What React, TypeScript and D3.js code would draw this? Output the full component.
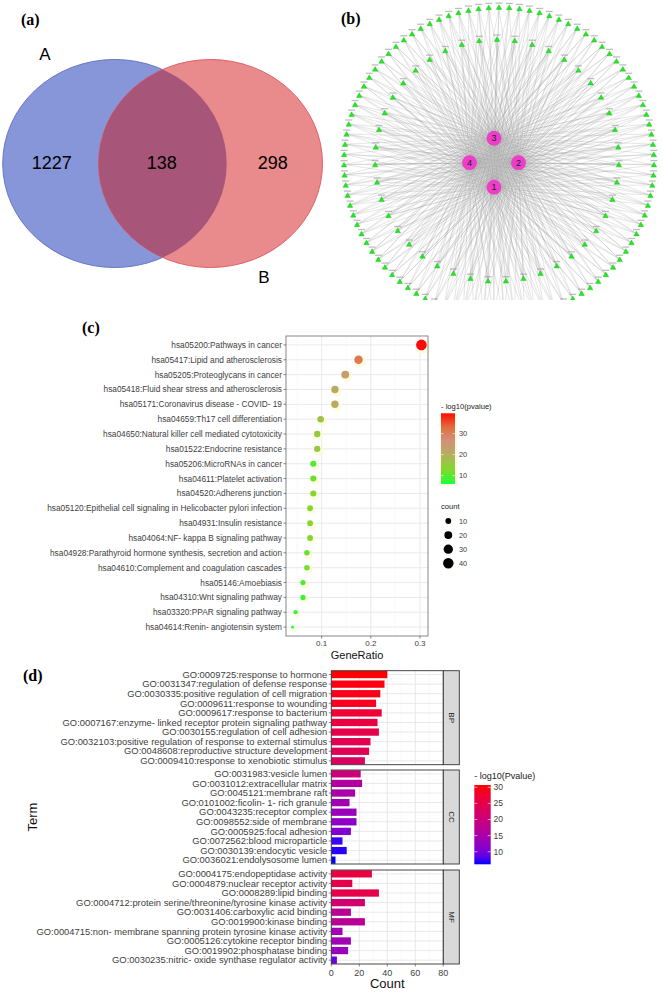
import React from 'react';
import * as d3 from 'd3';

// ---------- (a) Venn ----------
const vennSets = ['A', 'B'];
const vennCounts = [1227, 138, 298]; // A only, A∩B, B only

// ---------- (b) network ----------
const hubIds = ['3', '2', '1', '4']; // top, right, bottom, left
const outerNodeCount = 95;
const innerNodeCount = 43;

// ---------- (c) KEGG ----------
const keggTerms = [
  'hsa05200:Pathways in cancer',
  'hsa05417:Lipid and atherosclerosis',
  'hsa05205:Proteoglycans in cancer',
  'hsa05418:Fluid shear stress and atherosclerosis',
  'hsa05171:Coronavirus disease -  COVID- 19',
  'hsa04659:Th17 cell differentiation',
  'hsa04650:Natural killer cell mediated cytotoxicity',
  'hsa01522:Endocrine resistance',
  'hsa05206:MicroRNAs in cancer',
  'hsa04611:Platelet activation',
  'hsa04520:Adherens junction',
  'hsa05120:Epithelial cell signaling in Helicobacter pylori infection',
  'hsa04931:Insulin resistance',
  'hsa04064:NF- kappa B signaling pathway',
  'hsa04928:Parathyroid hormone synthesis, secretion and action',
  'hsa04610:Complement and coagulation cascades',
  'hsa05146:Amoebiasis',
  'hsa04310:Wnt signaling pathway',
  'hsa03320:PPAR signaling pathway',
  'hsa04614:Renin- angiotensin system',
];
const keggCount = [42, 24, 20, 17, 17, 13, 12, 12, 11, 11, 11, 10, 10, 10, 9, 9, 8, 8, 6, 5];
const keggRatio = [0.303, 0.175, 0.148, 0.127, 0.127, 0.098, 0.091, 0.091, 0.083, 0.083, 0.083, 0.0765, 0.0765, 0.0765, 0.07, 0.07, 0.062, 0.062, 0.047, 0.041];
const keggLogP = [39.7, 31, 24, 21, 21, 17, 16, 16, 9, 11, 14, 13, 13, 13, 11, 12, 9, 8, 7, 6];
const ratioTicks = [0.1, 0.2, 0.3];
const keggLogPTicks = [10, 20, 30];
const countLegendValues = [10, 20, 30, 40];
const keggColorStops = [6, 13, 20, 27, 33, 39.7];
const keggColorValues = ['#1cff3c', '#84d82c', '#b2b060', '#d68e7c', '#e0703c', '#ff0a0a'];

// ---------- (d) GO ----------
const goCategories = ['BP', 'CC', 'MF'];
const bpTerms = [
  'GO:0009725:response to hormone',
  'GO:0031347:regulation of defense response',
  'GO:0030335:positive regulation of cell migration',
  'GO:0009611:response to wounding',
  'GO:0009617:response to bacterium',
  'GO:0007167:enzyme- linked receptor protein signaling pathway',
  'GO:0030155:regulation of cell adhesion',
  'GO:0032103:positive regulation of response to external stimulus',
  'GO:0048608:reproductive structure development',
  'GO:0009410:response to xenobiotic stimulus',
];
const bpCount = [40, 38, 35, 32, 36, 33, 34, 28, 27, 24];
const bpLogP = [30.7, 30, 29.5, 29, 27, 26, 25, 24.5, 24, 23];
const ccTerms = [
  'GO:0031983:vesicle lumen',
  'GO:0031012:extracellular matrix',
  'GO:0045121:membrane raft',
  'GO:0101002:ficolin- 1- rich granule',
  'GO:0043235:receptor complex',
  'GO:0098552:side of membrane',
  'GO:0005925:focal adhesion',
  'GO:0072562:blood microparticle',
  'GO:0030139:endocytic vesicle',
  'GO:0036021:endolysosome lumen',
];
const ccCount = [21, 22, 17, 13, 18, 18, 14, 8, 11, 3];
const ccLogP = [20, 16, 15, 14, 13, 12, 11, 7, 6.5, 6.1];
const mfTerms = [
  'GO:0004175:endopeptidase activity',
  'GO:0004879:nuclear receptor activity',
  'GO:0008289:lipid binding',
  'GO:0004712:protein serine/threonine/tyrosine kinase activity',
  'GO:0031406:carboxylic acid binding',
  'GO:0019900:kinase binding',
  'GO:0004715:non- membrane spanning protein tyrosine kinase activity',
  'GO:0005126:cytokine receptor binding',
  'GO:0019902:phosphatase binding',
  'GO:0030235:nitric- oxide synthase regulator activity',
];
const mfCount = [29, 15, 34, 24, 14, 24, 8, 14, 12, 4];
const mfLogP = [26, 25, 25, 21, 17, 17, 14, 14, 13, 9];
const countTicks = [0, 20, 40, 60, 80];
const goLogPTicks = [10, 15, 20, 25, 30];

const SANS = '"Liberation Sans", Arial, sans-serif';
const SERIF = '"Liberation Serif", "DejaVu Serif", serif';

function Venn() {
  const cyV = 163.5, rx = 112, ry = 104;
  const cxA = 114.7, cxB = 210.5;
  return (
    <g>
      <text x={21} y={25} fontFamily={SERIF} fontWeight="bold" fontSize={16}>(a)</text>
      <defs>
        <clipPath id="clipA">
          <ellipse cx={cxA} cy={cyV} rx={rx} ry={ry} />
        </clipPath>
      </defs>
      <ellipse cx={cxA} cy={cyV} rx={rx} ry={ry} fill="#8796d8" stroke="#6676c4" strokeWidth={1} />
      <ellipse cx={cxB} cy={cyV} rx={rx} ry={ry} fill="#e98a8c" stroke="#e0606a" strokeWidth={1} />
      <ellipse cx={cxB} cy={cyV} rx={rx} ry={ry} fill="#a7567a" clipPath="url(#clipA)" />
      <text x={45} y={60} textAnchor="middle" fontFamily={SANS} fontSize={17}>{vennSets[0]}</text>
      <text x={264} y={283} textAnchor="middle" fontFamily={SANS} fontSize={17}>{vennSets[1]}</text>
      <text x={51.7} y={169} textAnchor="middle" fontFamily={SANS} fontSize={18}>{vennCounts[0]}</text>
      <text x={161.7} y={169} textAnchor="middle" fontFamily={SANS} fontSize={18}>{vennCounts[1]}</text>
      <text x={272.7} y={169} textAnchor="middle" fontFamily={SANS} fontSize={18}>{vennCounts[2]}</text>
    </g>
  );
}

function Network() {
  const hubCx = 494, hubCy = 162.7, hubOff = 24.5;
  const hubPos = [
    [hubCx, hubCy - hubOff],
    [hubCx + hubOff, hubCy],
    [hubCx, hubCy + hubOff],
    [hubCx - hubOff, hubCy],
  ];
  const outer = d3.range(outerNodeCount).map((i) => {
    const a = (i / outerNodeCount) * 2 * Math.PI;
    return [499 + 155 * Math.sin(a), 162 - 155 * Math.cos(a)];
  });
  const inner = d3.range(innerNodeCount).map((i) => {
    const a = (i / innerNodeCount) * 2 * Math.PI;
    return [497 + 122 * Math.sin(a), 160 - 121 * Math.cos(a)];
  });
  const nodes = outer.concat(inner);
  const tri = d3.symbol(d3.symbolTriangle, 13)();
  return (
    <g>
      <defs>
        <clipPath id="clipNet">
          <rect x={330} y={0} width={334} height={300} />
        </clipPath>
      </defs>
      <g clipPath="url(#clipNet)">
        {nodes.map((n, i) =>
          hubPos.map((h, j) => (
            <line key={`e${i}-${j}`} x1={n[0]} y1={n[1]} x2={h[0]} y2={h[1]} stroke="#9a9a9a" strokeOpacity={0.5} strokeWidth={0.5} />
          ))
        )}
        {nodes.map((n, i) => (
          <g key={`n${i}`} transform={`translate(${n[0]},${n[1]})`}>
            <rect x={-3.5} y={-4.6} width={7} height={1.3} fill="#8a8a8a" opacity={0.55} />
            <path d={tri} fill="#22e822" stroke="#14b814" strokeWidth={0.4} transform="translate(0,0.8)" />
          </g>
        ))}
        {hubPos.map((h, j) => (
          <g key={`h${j}`}>
            <circle cx={h[0]} cy={h[1]} r={7.4} fill="#ee3ec9" />
            <text x={h[0]} y={h[1] + 3.2} textAnchor="middle" fontFamily={SANS} fontSize={9} fill="#222">{hubIds[j]}</text>
          </g>
        ))}
      </g>
      <text x={341} y={24} fontFamily={SERIF} fontWeight="bold" fontSize={16}>(b)</text>
    </g>
  );
}

function Kegg() {
  const L = 286, R = 428, T = 336, B = 636;
  const x = d3.scaleLinear().domain([(L - 272.5) / 491.5, (R - 272.5) / 491.5]).range([L, R]);
  const y = d3.scalePoint<string>().domain(keggTerms).range([T, B]).padding(0.6);
  const color = d3.scaleLinear<string>().domain(keggColorStops).range(keggColorValues).interpolate(d3.interpolateRgb).clamp(true);
  const cMin = d3.min(keggCount)!, cMax = d3.max(keggCount)!;
  const sizeT = d3.scaleSqrt().domain([0, cMax - cMin]).range([0, 1]);
  const radius = (c: number) => (3 + 7.7 * sizeT(Math.max(0, c - cMin))) / 2;
  const minorTicks = [0.05, 0.15, 0.25];
  // legend
  const lgX = 441, lgT = 413.3, lgB = 484, lgW = 14;
  const lgScale = d3.scaleLinear().domain([6, 39.7]).range([lgB, lgT]);
  const stops = d3.range(0, 1.0001, 0.05);
  return (
    <g fontFamily={SANS}>
      <text x={82} y={333} fontFamily={SERIF} fontWeight="bold" fontSize={16}>(c)</text>
      <rect x={L} y={T} width={R - L} height={B - T} fill="#fff" />
      {minorTicks.map((t) => (
        <line key={`mn${t}`} x1={x(t)} x2={x(t)} y1={T} y2={B} stroke="#f2f2f2" strokeWidth={0.5} />
      ))}
      {ratioTicks.map((t) => (
        <line key={`mj${t}`} x1={x(t)} x2={x(t)} y1={T} y2={B} stroke="#e8e8e8" strokeWidth={0.9} />
      ))}
      {keggTerms.map((t) => (
        <line key={`h${t}`} x1={L} x2={R} y1={y(t)} y2={y(t)} stroke="#e8e8e8" strokeWidth={0.9} />
      ))}
      {keggTerms.map((t, i) => {
        const r = radius(keggCount[i]);
        return (
          <circle key={`s${t}`} cx={x(keggRatio[i]) + 1.5} cy={y(t)! + 1.8} r={r + 1.8} fill="#fdfbd8" opacity={0.8} />
        );
      })}
      {keggTerms.map((t, i) => (
        <circle key={`d${t}`} cx={x(keggRatio[i])} cy={y(t)} r={radius(keggCount[i])} fill={color(keggLogP[i])} />
      ))}
      <rect x={L} y={T} width={R - L} height={B - T} fill="none" stroke="#7a7a7a" strokeWidth={0.9} />
      {keggTerms.map((t) => (
        <g key={`l${t}`}>
          <line x1={L - 2.5} x2={L} y1={y(t)} y2={y(t)} stroke="#555" strokeWidth={0.7} />
          <text x={L - 4} y={y(t)! + 3} textAnchor="end" fontSize={8.3} fill="#404040">{t}</text>
        </g>
      ))}
      {ratioTicks.map((t) => (
        <g key={`xt${t}`}>
          <line x1={x(t)} x2={x(t)} y1={B} y2={B + 2.5} stroke="#555" strokeWidth={0.7} />
          <text x={x(t)} y={B + 10} textAnchor="middle" fontSize={8} fill="#404040">{t}</text>
        </g>
      ))}
      <text x={357} y={659} textAnchor="middle" fontSize={11} fill="#111">GeneRatio</text>
      {/* color legend */}
      <text x={lgX} y={409} fontSize={7.6} fill="#222">- log10(pvalue)</text>
      <defs>
        <linearGradient id="keggGrad" x1="0" y1="1" x2="0" y2="0">
          {stops.map((s) => (
            <stop key={`g${s}`} offset={s} stopColor={color(6 + s * 33.7)} />
          ))}
        </linearGradient>
      </defs>
      <rect x={lgX - 1} y={lgT - 1} width={lgW + 3} height={lgB - lgT + 3} fill="#fdfbd8" opacity={0.8} />
      <rect x={lgX} y={lgT} width={lgW} height={lgB - lgT} fill="url(#keggGrad)" />
      {keggLogPTicks.map((t) => (
        <g key={`lt${t}`}>
          <line x1={lgX} x2={lgX + 2.5} y1={lgScale(t)} y2={lgScale(t)} stroke="#fff" strokeWidth={0.6} />
          <line x1={lgX + lgW - 2.5} x2={lgX + lgW} y1={lgScale(t)} y2={lgScale(t)} stroke="#fff" strokeWidth={0.6} />
          <text x={459} y={lgScale(t) + 2.6} fontSize={7.4} fill="#404040">{t}</text>
        </g>
      ))}
      <text x={lgX} y={509} fontSize={7.6} fill="#222">count</text>
      {countLegendValues.map((c, i) => (
        <g key={`cl${c}`}>
          <circle cx={448.3} cy={521 + i * 14.1} r={radius(c)} fill="#000" />
          <text x={459} y={521 + i * 14.1 + 2.6} fontSize={7.4} fill="#404040">{c}</text>
        </g>
      ))}
    </g>
  );
}

function GoBars() {
  const L = 331.3, R = 443.3, SW = 16;
  const panelTops = [670.7, 770, 870];
  const PH = 94;
  const termsBy = [bpTerms, ccTerms, mfTerms];
  const countBy = [bpCount, ccCount, mfCount];
  const logPBy = [bpLogP, ccLogP, mfLogP];
  const x = d3.scaleLinear().domain([0, 80]).range([L, R]);
  const fill = d3.scaleLinear<string>().domain([6.1, 30.7]).range(['#0000ff', '#ff0000']).interpolate(d3.interpolateLab);
  const minor = [10, 30, 50, 70];
  const lgX = 474.3, lgT = 785, lgB = 864.3, lgW = 16.4;
  const lgScale = d3.scaleLinear().domain([6.1, 30.7]).range([lgB, lgT]);
  const stops = d3.range(0, 1.0001, 0.1);
  const lastBottom = panelTops[2] + PH;
  return (
    <g fontFamily={SANS}>
      <text x={23} y={681} fontFamily={SERIF} fontWeight="bold" fontSize={16}>(d)</text>
      {goCategories.map((cat, k) => {
        const top = panelTops[k];
        const y = d3.scaleBand<string>().domain(termsBy[k]).range([top, top + PH]).paddingInner(0.24).paddingOuter(0.02);
        return (
          <g key={cat}>
            <rect x={L} y={top} width={R - L} height={PH} fill="#fff" />
            {minor.map((t) => (
              <line key={`m${t}`} x1={x(t)} x2={x(t)} y1={top} y2={top + PH} stroke="#f2f2f2" strokeWidth={0.5} />
            ))}
            {countTicks.map((t) => (
              <line key={`M${t}`} x1={x(t)} x2={x(t)} y1={top} y2={top + PH} stroke="#e6e6e6" strokeWidth={0.9} />
            ))}
            {termsBy[k].map((t) => (
              <line key={`h${t}`} x1={L} x2={R} y1={y(t)! + y.bandwidth() / 2} y2={y(t)! + y.bandwidth() / 2} stroke="#e6e6e6" strokeWidth={0.9} />
            ))}
            {termsBy[k].map((t, i) => (
              <rect key={`b${t}`} x={x(0)} y={y(t)} width={x(countBy[k][i]) - x(0)} height={y.bandwidth()} fill={fill(logPBy[k][i])} />
            ))}
            <rect x={L} y={top} width={R - L} height={PH} fill="none" stroke="#333" strokeWidth={0.9} />
            <rect x={R} y={top} width={SW} height={PH} fill="#d9d9d9" stroke="#333" strokeWidth={0.9} />
            <text transform={`translate(${R + SW / 2 - 2.6},${top + PH / 2}) rotate(90)`} textAnchor="middle" fontSize={8} fill="#1a1a1a">{cat}</text>
            {termsBy[k].map((t) => {
              const cy = y(t)! + y.bandwidth() / 2;
              return (
                <g key={`l${t}`}>
                  <line x1={L - 2.5} x2={L} y1={cy} y2={cy} stroke="#555" strokeWidth={0.7} />
                  <text x={L - 4} y={cy + 3.2} textAnchor="end" fontSize={9.4} fill="#404040">{t}</text>
                </g>
              );
            })}
          </g>
        );
      })}
      {countTicks.map((t) => (
        <g key={`xt${t}`}>
          <line x1={x(t)} x2={x(t)} y1={lastBottom} y2={lastBottom + 2.5} stroke="#555" strokeWidth={0.7} />
          <text x={x(t)} y={lastBottom + 11.5} textAnchor="middle" fontSize={9} fill="#404040">{t}</text>
        </g>
      ))}
      <text x={387.3} y={988} textAnchor="middle" fontSize={13} fill="#111">Count</text>
      <text transform="translate(37,817) rotate(-90)" textAnchor="middle" fontSize={13} fill="#111">Term</text>
      {/* legend */}
      <text x={lgX} y={779} fontSize={9} fill="#222">- log10(Pvalue)</text>
      <defs>
        <linearGradient id="goGrad" x1="0" y1="1" x2="0" y2="0">
          {stops.map((s) => (
            <stop key={`g${s}`} offset={s} stopColor={fill(6.1 + s * 24.6)} />
          ))}
        </linearGradient>
      </defs>
      <rect x={lgX} y={lgT} width={lgW} height={lgB - lgT} fill="url(#goGrad)" />
      {goLogPTicks.map((t) => (
        <g key={`lt${t}`}>
          <line x1={lgX} x2={lgX + 3} y1={lgScale(t)} y2={lgScale(t)} stroke="#fff" strokeWidth={0.6} />
          <line x1={lgX + lgW - 3} x2={lgX + lgW} y1={lgScale(t)} y2={lgScale(t)} stroke="#fff" strokeWidth={0.6} />
          <text x={493.5} y={lgScale(t) + 3} fontSize={8.6} fill="#404040">{t}</text>
        </g>
      ))}
    </g>
  );
}

export default function App() {
  return (
    <svg width={664} height={992} style={{ position: 'absolute', left: 0, top: 0, background: '#fff' }}>
      <rect width={664} height={992} fill="#fff" />
      <Venn />
      <Network />
      <Kegg />
      <GoBars />
    </svg>
  );
}
